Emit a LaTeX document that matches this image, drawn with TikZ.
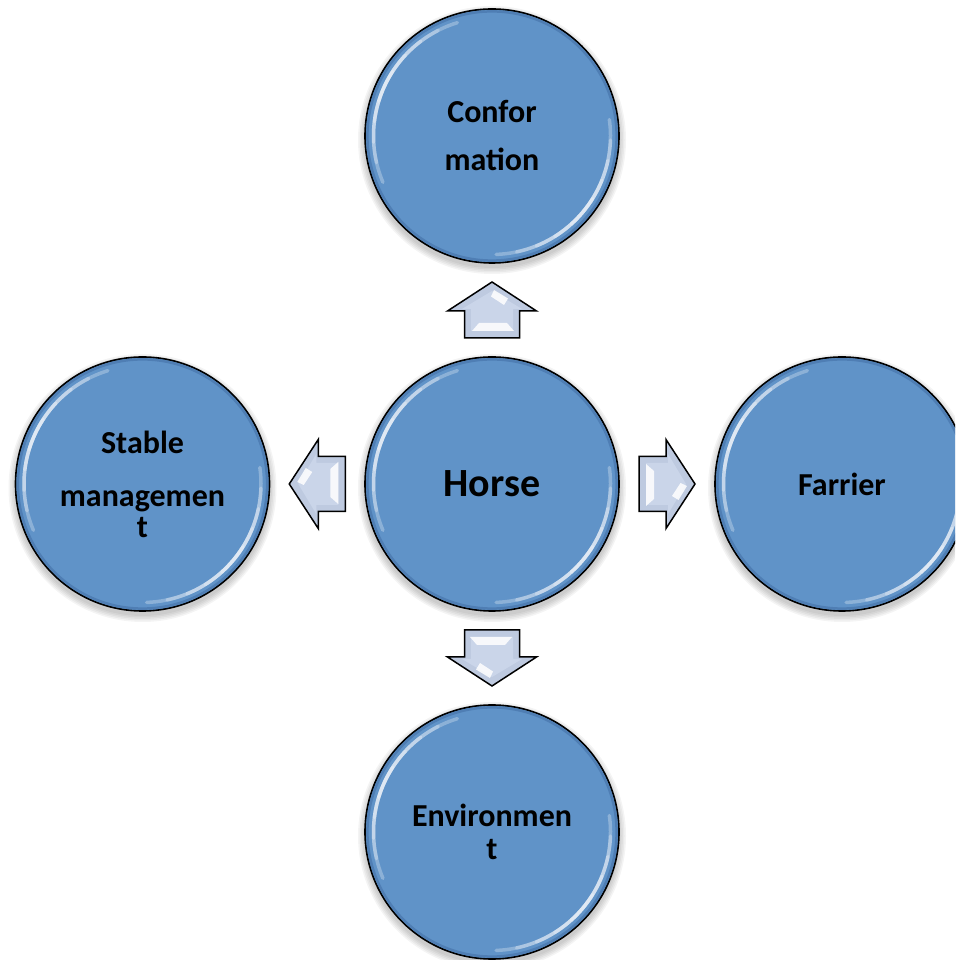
\documentclass[tikz,border=0pt]{standalone}
\usepackage{fontspec}
\setmainfont{Carlito}
\usetikzlibrary{calc}
\definecolor{ballblue}{RGB}{96,147,200}
\definecolor{ballrim}{RGB}{72,118,172}
\definecolor{arrowfill}{RGB}{190,202,224}
\definecolor{arrowface}{RGB}{202,213,233}
\tikzset{
  ball/.style={circle, draw=black, line width=1.6pt, fill=ballblue,
    minimum size=254pt, inner sep=0pt, align=center,
    font=\fontsize{32}{25}\selectfont\bfseries,
    execute at begin node={\lineskiplimit=-100pt\relax\lineskip=0pt\relax}},
  bigball/.style={ball, font=\fontsize{40}{40}\selectfont\bfseries},
  gloss/.style={white, opacity=0.28, line width=3.5pt, line cap=round},
  bevelarrow/.pic={
    \filldraw[fill=arrowfill, draw=black, line width=1.5pt, line join=miter]
      (0,28) -- (44.5,-1) -- (27.5,-1) -- (27.5,-28) -- (-27.5,-28) -- (-27.5,-1) -- (-44.5,-1) -- cycle;
    \fill[arrowface] (0,19) -- (30,1) -- (21,1) -- (21,-21) -- (-21,-21) -- (-21,1) -- (-30,1) -- cycle;
    \fill[white, opacity=0.85] (2,20) -- (16,11.5) -- (12,5) -- (-1,13.5) -- cycle;
    \fill[white, opacity=0.85] (-20,-21) -- (22,-21) -- (15,-13) -- (-13,-13) -- cycle;
  }
}
\begin{document}
\begin{tikzpicture}[x=1pt,y=1pt]
\useasboundingbox (0,0) rectangle (955,960);
\clip (0,0) rectangle (955,960);
% centres
\coordinate (cConf) at (492,824);
\coordinate (cStab) at (142.5,476);
\coordinate (cHorse) at (492,476);
\coordinate (cFarr) at (842,476);
\coordinate (cEnv) at (492,128);
% soft shadows
\foreach \c in {cConf,cStab,cHorse,cFarr,cEnv}{
  \foreach \r in {128,129.5,131,132.5,134}{
    \fill[black, opacity=0.045] ($(\c)+(0,-4)$) circle[radius=\r];
  }
}
% circles
\node[ball] (conf) at (cConf) {Confor\\[23pt]mation};
\node[ball] (stab) at (cStab) {Stable\\[28pt]managemen\\[6pt]t};
\node[bigball] (horse) at (cHorse) {Horse};
\node[ball] (farr) at (cFarr) {Farrier};
\node[ball] (env) at (cEnv) {Environmen\\[8pt]t};
% rims and gloss
\foreach \n in {conf,stab,horse,farr,env}{
  \draw[ballrim, opacity=0.7, line width=2.5pt] (\n.center) circle[radius=124.6];
  \foreach \s in {8,18,28,38,48}{
    \draw[gloss] (\n.center) ++(155+\s:118.5) arc[start angle=155+\s, end angle=155-\s, radius=118.5];
    \draw[gloss] (\n.center) ++(-40+\s:118.5) arc[start angle=-40+\s, end angle=-40-\s, radius=118.5];
  }
}
% arrows
\pic (aUp) at ($(horse.north)!0.5!(conf.south)$) {bevelarrow};
\pic[rotate=90] (aLeft) at ($(horse.west)!0.5!(stab.east)$) {bevelarrow};
\pic[rotate=-90] (aRight) at ($(horse.east)!0.5!(farr.west)$) {bevelarrow};
\pic[rotate=180] (aDown) at ($(horse.south)!0.5!(env.north)$) {bevelarrow};
\end{tikzpicture}
\end{document}
